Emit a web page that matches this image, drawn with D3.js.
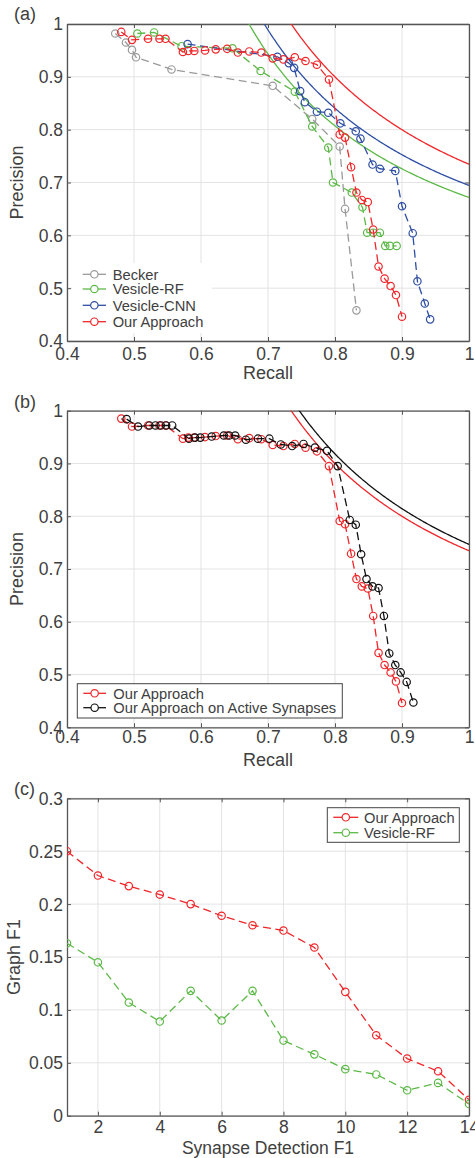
<!DOCTYPE html>
<html>
<head>
<meta charset="utf-8">
<script src="https://cdn.jsdelivr.net/npm/d3@7/dist/d3.min.js"></script>
<style>
  html, body { margin: 0; padding: 0; background: #fff; }
  svg { display: block; }
  text { font-family: "Liberation Sans", Arial, Helvetica, sans-serif; fill: #404040; }
</style>
</head>
<body>
<svg id="chart" width="475" height="1158"></svg>
<script>
// ---------- DATA ----------
const prTicks = [0.4, 0.5, 0.6, 0.7, 0.8, 0.9, 1];
const prTickLabels = ["0.4", "0.5", "0.6", "0.7", "0.8", "0.9", "1"];

const beckerRecall    = [0.472, 0.488, 0.497, 0.503, 0.556, 0.707, 0.766, 0.807, 0.815, 0.832];
const beckerPrecision = [0.982, 0.965, 0.951, 0.937, 0.914, 0.883, 0.820, 0.768, 0.650, 0.458];

const rfRecall    = [0.505, 0.530, 0.571, 0.647, 0.689, 0.740, 0.766, 0.790, 0.797, 0.825, 0.841, 0.848, 0.857, 0.867, 0.875, 0.882, 0.892];
const rfPrecision = [0.982, 0.984, 0.958, 0.954, 0.911, 0.872, 0.806, 0.766, 0.700, 0.681, 0.653, 0.605, 0.605, 0.605, 0.580, 0.580, 0.580];

const cnnRecall    = [0.580, 0.714, 0.731, 0.739, 0.748, 0.755, 0.773, 0.790, 0.808, 0.831, 0.838, 0.856, 0.867, 0.890, 0.900, 0.916, 0.923, 0.934, 0.942];
const cnnPrecision = [0.962, 0.938, 0.926, 0.917, 0.873, 0.852, 0.834, 0.832, 0.812, 0.797, 0.783, 0.734, 0.726, 0.722, 0.655, 0.604, 0.513, 0.471, 0.441];

const oursRecall    = [0.481, 0.497, 0.521, 0.538, 0.547, 0.573, 0.581, 0.590, 0.606, 0.622, 0.639, 0.655, 0.672, 0.690, 0.707, 0.723, 0.740, 0.756, 0.773, 0.791, 0.807, 0.815, 0.824, 0.832, 0.840, 0.849, 0.857, 0.865, 0.874, 0.883, 0.891, 0.900];
const oursPrecision = [0.985, 0.970, 0.972, 0.972, 0.972, 0.947, 0.949, 0.949, 0.950, 0.952, 0.953, 0.946, 0.948, 0.946, 0.935, 0.933, 0.937, 0.930, 0.923, 0.895, 0.791, 0.785, 0.729, 0.681, 0.667, 0.663, 0.611, 0.541, 0.518, 0.504, 0.487, 0.446];

const activeRecall    = [0.489, 0.506, 0.523, 0.532, 0.540, 0.548, 0.557, 0.582, 0.591, 0.599, 0.616, 0.634, 0.642, 0.651, 0.667, 0.685, 0.702, 0.719, 0.736, 0.753, 0.770, 0.788, 0.804, 0.822, 0.831, 0.839, 0.847, 0.856, 0.865, 0.873, 0.881, 0.890, 0.898, 0.907, 0.917];
const activePrecision = [0.984, 0.970, 0.972, 0.972, 0.972, 0.972, 0.972, 0.947, 0.949, 0.949, 0.951, 0.953, 0.953, 0.953, 0.945, 0.947, 0.947, 0.936, 0.933, 0.937, 0.930, 0.924, 0.895, 0.793, 0.784, 0.728, 0.681, 0.667, 0.664, 0.611, 0.540, 0.518, 0.504, 0.486, 0.447];

// best F1 of each method (iso-F1 curves)
const isoF1a = { rf: 0.8036, cnn: 0.8197, ours: 0.847 };
const isoF1b = { ours: 0.847, active: 0.855 };

const graphX = [1, 2, 3, 4, 5, 6, 7, 8, 9, 10, 11, 12, 13, 14];
const graphOurs = [0.250, 0.227, 0.217, 0.209, 0.200, 0.189, 0.180, 0.175, 0.159, 0.117, 0.076, 0.054, 0.042, 0.015];
const graphRF   = [0.163, 0.145, 0.107, 0.089, 0.118, 0.090, 0.118, 0.071, 0.058, 0.044, 0.039, 0.024, 0.031, 0.011];
const graphXTicks = [2, 4, 6, 8, 10, 12, 14];
const graphXTickLabels = ["2", "4", "6", "8", "10", "12", "14"];
const graphYTicks = [0, 0.05, 0.1, 0.15, 0.2, 0.25, 0.3];
const graphYTickLabels = ["0", "0.05", "0.1", "0.15", "0.2", "0.25", "0.3"];

// ---------- STYLE ----------
const C = { gray: "#9a9a9a", green: "#5cb947", blue: "#2e4ea3", red: "#f0262a", black: "#111111" };
const svg = d3.select("#chart");
const LEFT = 67, RIGHT = 469;

function zip(a, b) { return a.map((v, i) => [v, b[i]]); }

function drawPanel(o) {
  const g = svg.append("g");
  const x = d3.scaleLinear().domain(o.xDomain).range([LEFT, RIGHT]);
  const y = d3.scaleLinear().domain(o.yDomain).range([o.bottom, o.top]);
  const clipId = "clip" + o.id;
  svg.append("clipPath").attr("id", clipId).append("rect")
    .attr("x", LEFT).attr("y", o.top).attr("width", RIGHT - LEFT).attr("height", o.bottom - o.top);

  // grid
  g.append("g").selectAll("line").data(o.xTicks).join("line")
    .attr("x1", d => x(d)).attr("x2", d => x(d)).attr("y1", o.top).attr("y2", o.bottom)
    .attr("stroke", "#e3e3e3").attr("stroke-width", 1);
  g.append("g").selectAll("line").data(o.yTicks).join("line")
    .attr("y1", d => y(d)).attr("y2", d => y(d)).attr("x1", LEFT).attr("x2", RIGHT)
    .attr("stroke", "#e3e3e3").attr("stroke-width", 1);

  // axes with inward ticks (all four sides)
  const axB = d3.axisBottom(x).tickValues(o.xTicks).tickFormat((d, i) => o.xTickLabels[i]).tickSizeInner(-4).tickSizeOuter(0);
  const axT = d3.axisTop(x).tickValues(o.xTicks).tickFormat("").tickSizeInner(-4).tickSizeOuter(0);
  const axL = d3.axisLeft(y).tickValues(o.yTicks).tickFormat((d, i) => o.yTickLabels[i]).tickSizeInner(-4).tickSizeOuter(0);
  const axR = d3.axisRight(y).tickValues(o.yTicks).tickFormat("").tickSizeInner(-4).tickSizeOuter(0);

  const gb = g.append("g").attr("transform", `translate(0,${o.bottom})`).call(axB);
  const gt = g.append("g").attr("transform", `translate(0,${o.top})`).call(axT);
  const gl = g.append("g").attr("transform", `translate(${LEFT},0)`).call(axL);
  const gr = g.append("g").attr("transform", `translate(${RIGHT},0)`).call(axR);
  [gb, gt, gl, gr].forEach(a => {
    a.select(".domain").attr("stroke", "#555").attr("stroke-width", 1.3);
    a.selectAll(".tick line").attr("stroke", "#555").attr("stroke-width", 1);
    a.selectAll("text").attr("fill", "#404040").style("font-size", "17.5px")
      .style("font-family", '"Liberation Sans", Arial, sans-serif');
  });
  gb.selectAll("text").attr("dy", null).attr("y", o.xLabelOffset);
  gl.selectAll("text").attr("x", -4).attr("dy", "0.34em");

  const content = g.append("g").attr("clip-path", `url(#${clipId})`);

  // iso-F1 curves: P = F*R / (2R - F)
  (o.isoCurves || []).forEach(c => {
    const pts = d3.range(0, 401).map(i => c.f / 2 + 0.0005 + (1 - c.f / 2) * i / 400)
      .map(r => [r, c.f * r / (2 * r - c.f)]).filter(p => p[1] <= 1.2);
    content.append("path").datum(pts)
      .attr("d", d3.line().x(d => x(d[0])).y(d => y(d[1])))
      .attr("fill", "none").attr("stroke", c.color).attr("stroke-width", 1.3);
  });

  o.series.forEach(s => {
    const pts = zip(s.x, s.y);
    content.append("path").datum(pts)
      .attr("d", d3.line().x(d => x(d[0])).y(d => y(d[1])))
      .attr("fill", "none").attr("stroke", s.color).attr("stroke-width", 1.3)
      .attr("stroke-dasharray", "8,4.5");
    content.append("g").selectAll("circle").data(pts).join("circle")
      .attr("cx", d => x(d[0])).attr("cy", d => y(d[1])).attr("r", 3.7)
      .attr("fill", "none").attr("stroke", s.color).attr("stroke-width", 1.2);
  });

  // axis labels
  svg.append("text").attr("x", (LEFT + RIGHT) / 2).attr("y", o.xTitleY)
    .attr("text-anchor", "middle").style("font-size", o.xTitleSize || "18px").text(o.xTitle);
  svg.append("text").attr("transform", `translate(${o.yTitleX},${(o.top + o.bottom) / 2}) rotate(-90)`)
    .attr("text-anchor", "middle").style("font-size", "18px").text(o.yTitle);
  svg.append("text").attr("x", 14).attr("y", o.panelLabelY)
    .style("font-size", "18px").text(o.panelLabel);

  // legend
  const L = o.legend;
  svg.append("rect").attr("x", L.x0).attr("y", L.y0).attr("width", L.x1 - L.x0).attr("height", L.y1 - L.y0)
    .attr("fill", "#fff").attr("stroke", L.border ? "#444" : "none").attr("stroke-width", 1);
  o.series.forEach((s, i) => {
    const ly = L.rows[i];
    svg.append("line").attr("x1", L.lx0).attr("x2", L.lx1).attr("y1", ly).attr("y2", ly)
      .attr("stroke", s.color).attr("stroke-width", 1.3);
    svg.append("circle").attr("cx", (L.lx0 + L.lx1) / 2).attr("cy", ly).attr("r", 3.7)
      .attr("fill", "#fff").attr("stroke", s.color).attr("stroke-width", 1.2);
    svg.append("text").attr("x", L.tx).attr("y", ly + 5.3)
      .style("font-size", "14.7px").text(s.name);
  });
}

drawPanel({
  id: "a", top: 24, bottom: 341,
  xDomain: [0.4, 1], yDomain: [0.4, 1],
  xTicks: prTicks, xTickLabels: prTickLabels, yTicks: prTicks, yTickLabels: prTickLabels,
  xLabelOffset: 19, xTitle: "Recall", xTitleY: 379, yTitle: "Precision", yTitleX: 23,
  panelLabel: "(a)", panelLabelY: 20,
  isoCurves: [
    { f: isoF1a.rf, color: C.green },
    { f: isoF1a.cnn, color: C.blue },
    { f: isoF1a.ours, color: C.red }
  ],
  series: [
    { name: "Becker", x: beckerRecall, y: beckerPrecision, color: C.gray },
    { name: "Vesicle-RF", x: rfRecall, y: rfPrecision, color: C.green },
    { name: "Vesicle-CNN", x: cnnRecall, y: cnnPrecision, color: C.blue },
    { name: "Our Approach", x: oursRecall, y: oursPrecision, color: C.red }
  ],
  legend: { x0: 72, x1: 212, y0: 263, y1: 333, border: false, lx0: 82.7, lx1: 106, tx: 112.7,
            rows: [274.3, 289, 305.3, 321.7] }
});

drawPanel({
  id: "b", top: 410.7, bottom: 727.3,
  xDomain: [0.4, 1], yDomain: [0.4, 1],
  xTicks: prTicks, xTickLabels: prTickLabels, yTicks: prTicks, yTickLabels: prTickLabels,
  xLabelOffset: 15.5, xTitle: "Recall", xTitleY: 766, yTitle: "Precision", yTitleX: 23,
  panelLabel: "(b)", panelLabelY: 408,
  isoCurves: [
    { f: isoF1b.ours, color: C.red },
    { f: isoF1b.active, color: C.black }
  ],
  series: [
    { name: "Our Approach", x: oursRecall, y: oursPrecision, color: C.red },
    { name: "Our Approach on Active Synapses", x: activeRecall, y: activePrecision, color: C.black }
  ],
  legend: { x0: 77.3, x1: 342.3, y0: 683.7, y1: 718, border: true, lx0: 83.3, lx1: 106, tx: 113.3,
            rows: [693.3, 707.7] }
});

drawPanel({
  id: "c", top: 798.3, bottom: 1115.7,
  xDomain: [1, 14], yDomain: [0, 0.3],
  xTicks: graphXTicks, xTickLabels: graphXTickLabels, yTicks: graphYTicks, yTickLabels: graphYTickLabels,
  xLabelOffset: 17.5, xTitle: "Synapse Detection F1", xTitleY: 1153.5, xTitleSize: "17.5px",
  yTitle: "Graph F1", yTitleX: 20,
  panelLabel: "(c)", panelLabelY: 795,
  series: [
    { name: "Our Approach", x: graphX, y: graphOurs, color: C.red },
    { name: "Vesicle-RF", x: graphX, y: graphRF, color: C.green }
  ],
  legend: { x0: 327.3, x1: 459.3, y0: 807.7, y1: 842.3, border: true, lx0: 333.3, lx1: 358.3, tx: 364,
            rows: [817.3, 832.7] }
});
</script>
</body>
</html>
